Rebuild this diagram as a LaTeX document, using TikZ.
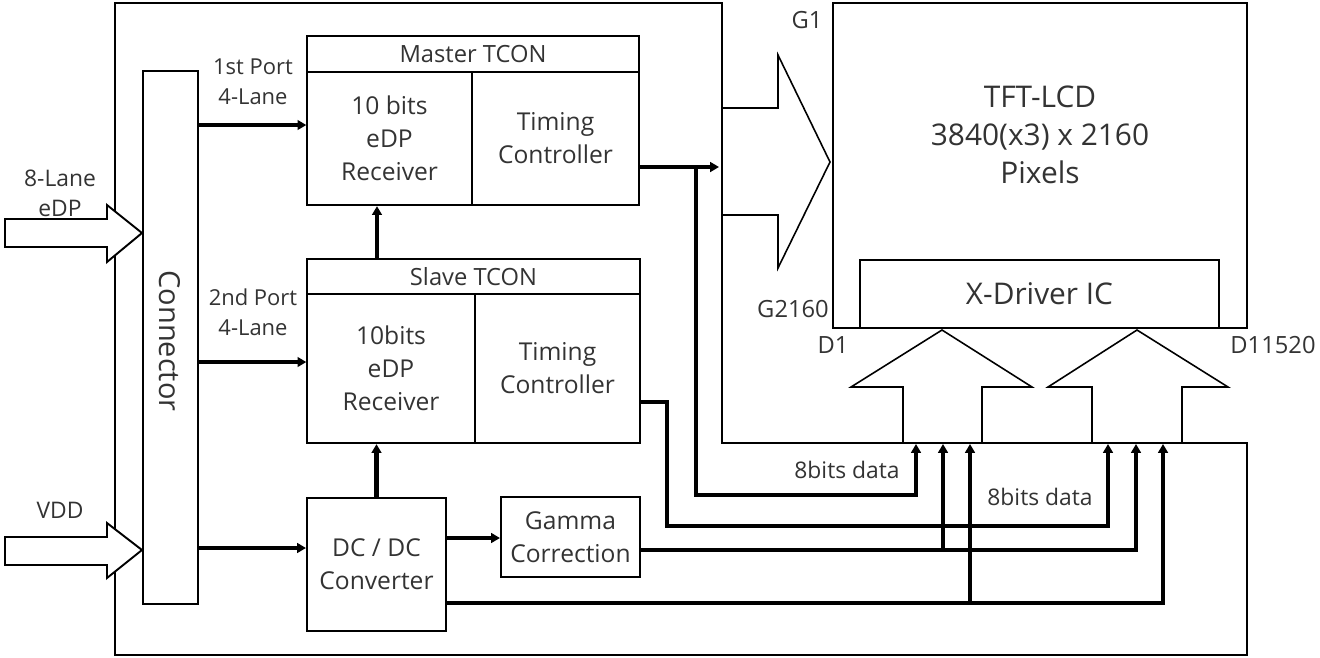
\documentclass[tikz,border=0pt]{standalone}
\usepackage{fontspec}
\setmainfont{Open Sans}
\usetikzlibrary{arrows.meta, calc}

\tikzset{
  box/.style={draw, line width=1.3pt, inner sep=0pt, align=center},
  subbox/.style={draw, line width=0.8pt, inner sep=0pt, align=center},
  wire/.style={line width=2.3pt, -{Triangle[length=5pt,width=5.5pt]}},
  board/.style={line width=1.1pt},
  hollow/.style={line width=0.9pt},
  lbl/.style={align=center, font=\fontsize{13}{17}\selectfont},
  title/.style={font=\fontsize{13.5}{16}\selectfont},
}

\begin{document}
\begin{tikzpicture}[x=0.02cm, y=-0.02cm, font=\fontsize{14}{18.7}\selectfont, text=black!80]
\useasboundingbox (0,0) rectangle (1320,657);

% ==========================================
% Board outline
% ==========================================
\draw[board] (115,3) -- (722,3) -- (722,443) -- (1247,443) -- (1247,655) -- (115,655) -- cycle;

% Input arrows (8-Lane eDP, VDD)
\draw[hollow, fill=white, line width=1.1pt] (5,219) -- (107,219) -- (107,205) -- (142,233) -- (107,262) -- (107,247) -- (5,247) -- cycle;
\draw[hollow, fill=white, line width=1.1pt] (5,537) -- (107,537) -- (107,523) -- (142,550) -- (107,578) -- (107,565) -- (5,565) -- cycle;
\node[lbl] (edplbl) at (60,193) {8-Lane\\eDP};
\node[lbl] (vddlbl) at (60,510) {VDD};

% ==========================================
% Connector
% ==========================================
\node[box, minimum width=1.1cm, minimum height=10.66cm] (conn) at (170.5,337.5) {};
\node[rotate=-90, font=\fontsize{16.5}{20}\selectfont] (conntxt) at (170,341) {Connector};

% ==========================================
% Master TCON
% ==========================================
\node[subbox, title, minimum width=6.64cm, minimum height=0.72cm] (mhead) at (473,54) {Master TCON};
\node[subbox, minimum width=3.3cm, minimum height=2.66cm] (mrx) at (389.5,138.5) {10 bits\\eDP\\Receiver};
\node[subbox, minimum width=3.34cm, minimum height=2.66cm] (mtc) at (555.5,138.5) {Timing\\Controller};
\node[box, minimum width=6.64cm, minimum height=3.38cm] (master) at (473,120.5) {};

% ==========================================
% Slave TCON
% ==========================================
\node[subbox, title, minimum width=6.66cm, minimum height=0.7cm] (shead) at (473.5,276.5) {Slave TCON};
\node[subbox, minimum width=3.36cm, minimum height=2.98cm] (srx) at (391,368.5) {10bits\\eDP\\Receiver};
\node[subbox, minimum width=3.3cm, minimum height=2.98cm] (stc) at (557.5,368.5) {Timing\\Controller};
\node[box, minimum width=6.66cm, minimum height=3.68cm] (slave) at (473.5,351) {};

% Power and gamma
\node[box, line width=1.2pt, minimum width=2.78cm, minimum height=2.66cm] (dcdc) at (376.5,564.5) {DC / DC\\Converter};
\node[box, line width=1.2pt, minimum width=2.78cm, minimum height=1.6cm] (gamma) at (570.5,537) {Gamma\\Correction};

\node[lbl, font=\fontsize{12.5}{17}\selectfont] (port1) at (253,82) {1st Port\\4-Lane};
\node[lbl, font=\fontsize{12.5}{17}\selectfont] (port2) at (253,312) {2nd Port\\4-Lane};

% ==========================================
% TFT-LCD panel
% ==========================================
\node[box, minimum width=8.28cm, minimum height=6.5cm] (panel) at (1040,165.5) {};
\node[align=center, font=\fontsize{17}{21.5}\selectfont] (paneltxt) at (1040,135) {TFT-LCD\\3840(x3) x 2160\\Pixels};
\node[box, line width=1pt, minimum width=7.18cm, minimum height=1.36cm, font=\fontsize{17}{20}\selectfont] (xdrv) at (1039.5,294) {X-Driver IC};

% Gate and source arrows
\draw[hollow] (722,108) -- (778,108) -- (778,55) -- (830,162) -- (778,268) -- (778,215) -- (722,215);
\draw[hollow] (903,443) -- (903,387) -- (851,387) -- (942,330) -- (1032,387) -- (982,387) -- (982,443);
\draw[hollow] (1092,443) -- (1092,387) -- (1048,387) -- (1137,330) -- (1228,387) -- (1182,387) -- (1182,443);

\node[lbl, font=\fontsize{13.5}{16}\selectfont] (g1) at (807,20) {G1};
\node[lbl, font=\fontsize{13.5}{16}\selectfont] (g2160) at (793,309) {G2160};
\node[lbl, font=\fontsize{13.5}{16}\selectfont] (d1) at (833,345) {D1};
\node[lbl, font=\fontsize{13.5}{16}\selectfont] (d11520) at (1273,345) {D11520};

% ==========================================
% Wires
% ==========================================
\coordinate (gin) at (719,167);
\coordinate (mtap) at (696,167);
\coordinate (p1) at (916,444);
\coordinate (p2) at (943,444);
\coordinate (p3) at (970,444);
\coordinate (p4) at (1108,444);
\coordinate (p5) at (1136,444);
\coordinate (p6) at (1163,444);

\draw[wire] (conn.east |- 0,125) -- (mrx.west |- 0,125);
\draw[wire] (conn.east |- 0,362) -- (srx.west |- 0,362);
\draw[wire] (conn.east |- 0,548) -- (dcdc.west |- 0,548);
\draw[wire] (slave.north -| 377,0) -- (master.south -| 377,0);
\draw[wire] (dcdc.north) -- (dcdc.north |- slave.south);
\draw[wire] (dcdc.east |- 0,538) -- (gamma.west |- 0,538);

\draw[wire] (mtc.east |- gin) -- (gin);
\draw[wire] (mtap) |- (916,495) -- (p1);
\draw[wire] (stc.east |- 0,402) -| (667,526) -| (p4);
\draw[wire] (gamma.east |- 0,550) -| (p5);
\draw[wire] (943,550) -- (p2);
\draw[wire] (dcdc.east |- 0,603) -| (p6);
\draw[wire] (970,603) -- (p3);

\node[lbl] (bits1) at (847,470) {8bits data};
\node[lbl] (bits2) at (1040,497) {8bits data};

\end{tikzpicture}
\end{document}
